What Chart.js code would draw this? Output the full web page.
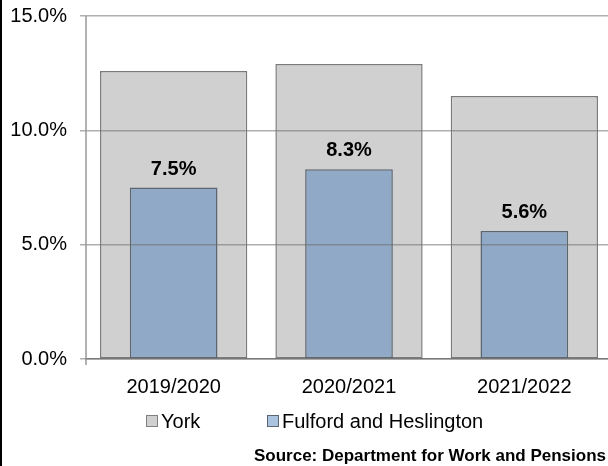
<!DOCTYPE html>
<html>
<head>
<meta charset="utf-8">
<script src="https://cdn.jsdelivr.net/npm/chart.js@4"></script>
<style>
  body { margin: 0; overflow: hidden; background: #fff; }
  #wrap { position: relative; width: 608px; height: 466px; overflow: hidden; }
  #edge { position: absolute; left: 0; top: 0; width: 2px; height: 466px; background: #000; }
</style>
</head>
<body>
<div id="wrap">
  <canvas id="chart" width="612" height="466"></canvas>
  <div id="edge"></div>
</div>
<script>
const years = ['2019/2020', '2020/2021', '2021/2022'];
const york = [12.6, 12.9, 11.5];
const fulford = [7.5, 8.3, 5.6];
const yTicks = [0, 5, 10, 15];
const sourceText = 'Source: Department for Work and Pensions';

const FONT = '"Liberation Sans", Arial, sans-serif';

// value labels over the ward bars, legend and source line
const extras = {
  id: 'extras',
  afterDatasetsDraw(chart) {
    const ctx = chart.ctx;
    const meta = chart.getDatasetMeta(0);
    ctx.save();
    ctx.font = 'bold 20px ' + FONT;
    ctx.fillStyle = '#000';
    ctx.textAlign = 'center';
    ctx.textBaseline = 'alphabetic';
    meta.data.forEach((bar, i) => {
      ctx.fillText(fulford[i].toFixed(1) + '%', bar.x, bar.y - 13);
    });
    ctx.restore();
  },
  afterDraw(chart) {
    const ctx = chart.ctx;
    const area = chart.chartArea;
    ctx.save();
    // y axis line, with the little stub below the zero line
    ctx.strokeStyle = '#999';
    ctx.lineWidth = 1.5;
    ctx.beginPath();
    ctx.moveTo(area.left, area.top);
    ctx.lineTo(area.left, area.bottom + 6);
    ctx.stroke();
    // legend (York first, then the ward)
    const items = [
      { ds: chart.data.datasets[1], x: 146, fill: '#d0d0d0', stroke: '#808080' },
      { ds: chart.data.datasets[0], x: 267, fill: '#a9c3e0', stroke: '#5c6670' }
    ];
    ctx.font = '20px ' + FONT;
    ctx.textAlign = 'left';
    ctx.textBaseline = 'alphabetic';
    items.forEach(it => {
      ctx.fillStyle = it.fill;
      ctx.fillRect(it.x, 415, 12, 12);
      ctx.strokeStyle = it.stroke;
      ctx.lineWidth = 1;
      ctx.strokeRect(it.x + 0.5, 415.5, 11, 11);
      ctx.fillStyle = '#000';
      ctx.fillText(it.ds.label, it.x + 15, 428);
    });
    // source
    ctx.font = 'bold 17px ' + FONT;
    ctx.textAlign = 'right';
    ctx.fillText(sourceText, 606, 461);
    ctx.restore();
  }
};

new Chart(document.getElementById('chart'), {
  type: 'bar',
  data: {
    labels: years,
    datasets: [
      {
        label: 'Fulford and Heslington',
        data: fulford,
        backgroundColor: '#8fa9c7',
        borderColor: '#5c6670',
        borderWidth: 1.5,
        borderSkipped: false,
        grouped: false,
        barPercentage: 0.5,
        categoryPercentage: 1
      },
      {
        label: 'York',
        data: york,
        backgroundColor: '#d0d0d0',
        borderColor: '#7a7a7a',
        borderWidth: 1.5,
        borderSkipped: false,
        grouped: false,
        barPercentage: 0.84,
        categoryPercentage: 1
      }
    ]
  },
  options: {
    responsive: false,
    animation: false,
    layout: { padding: { top: 16, right: 0, bottom: 0, left: 0 } },
    plugins: {
      legend: { display: false },
      tooltip: { enabled: false }
    },
    scales: {
      x: {
        grid: { display: false, drawTicks: false },
        border: { display: true, color: '#858585', width: 1.5 },
        ticks: {
          color: '#000',
          font: { family: FONT, size: 20 },
          padding: 16
        },
        afterFit(scale) { scale.height = 107; }
      },
      y: {
        min: 0,
        max: 15,
        afterBuildTicks(scale) {
          scale.ticks = yTicks.map(v => ({ value: v }));
        },
        grid: {
          color: 'rgba(110,110,110,0.55)',
          lineWidth: 1.5,
          tickLength: 6,
          z: 1
        },
        border: { display: false },
        ticks: {
          color: '#000',
          font: { family: FONT, size: 20 },
          padding: 13,
          callback: v => v.toFixed(1) + '%'
        },
        afterFit(scale) {
          scale.width = 86;
          scale.paddingTop = 0;
          scale.paddingBottom = 0;
        }
      }
    }
  },
  plugins: [extras]
});
</script>
</body>
</html>
